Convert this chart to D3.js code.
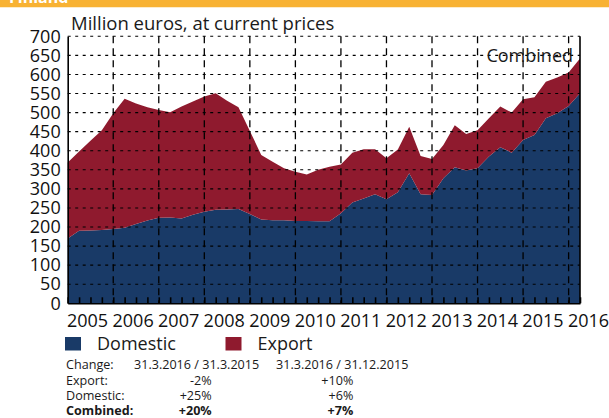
<!DOCTYPE html>
<html>
<head>
<meta charset="utf-8">
<script src="https://cdn.jsdelivr.net/npm/d3@7"></script>
<style>
  body { margin: 0; background: #fff; }
  svg { display: block; font-family: 'Open Sans', sans-serif; }
</style>
</head>
<body>
<div id="charts-container"></div>
<script>
// quarterly values, 31.12.2004 ... 31.3.2016
const domestic = [
  170, 190, 191, 192, 195, 198, 208, 217, 224, 225, 222, 232, 240, 245, 246, 247,
  234, 220, 218, 218, 216, 216, 215, 215, 236, 264, 275, 286, 273, 291, 341, 286,
  284, 328, 357, 348, 354, 385, 409, 395, 428, 441, 485, 498, 517, 551,
];
const exportValues = [
  199, 208, 235, 262, 303, 338, 316, 297, 283, 276, 294, 297, 302, 306, 285, 267,
  218, 169, 153, 136, 129, 122, 135, 143, 128, 131, 129, 118, 107, 112, 122, 100,
  94, 87, 110, 96, 100, 100, 107, 105, 107, 99, 96, 94, 88, 91,
];
const years = ['2005', '2006', '2007', '2008', '2009', '2010', '2011', '2012', '2013', '2014', '2015', '2016'];
const yTicks = [0, 50, 100, 150, 200, 250, 300, 350, 400, 450, 500, 550, 600, 650, 700];
const seriesNames = ['Domestic', 'Export'];
const seriesColors = ['#193a67', '#8f1a2e'];
const changeRows = [
  ['Change:', '31.3.2016 / 31.3.2015', '31.3.2016 / 31.12.2015'],
  ['Export:', '-2%', '+10%'],
  ['Domestic:', '+25%', '+6%'],
  ['Combined:', '+20%', '+7%'],
];

class StackChart {
  constructor(rows) {
    this.rows = rows;
  }

  draw() {
    this.margin = { top: 36.3, right: 29, bottom: 114.7, left: 67.7 };
    this.width = 609 - this.margin.left - this.margin.right;
    this.height = 418 - this.margin.top - this.margin.bottom;

    const root = d3.select('#charts-container').append('svg')
      .attr('width', 609)
      .attr('height', 418);

    // orange band with the country name, mostly cut off
    root.append('clipPath').attr('id', 'band-clip')
      .append('rect').attr('width', 609).attr('height', 7.5);
    const band = root.append('g').attr('clip-path', 'url(#band-clip)');
    band.append('rect').attr('width', 609).attr('height', 7.5).style('fill', '#f8b233');
    band.append('text')
      .attr('x', 9).attr('y', 3)
      .style('font-size', '16px').style('font-weight', 'bold').style('fill', '#fff')
      .text('Finland');

    root.append('text')
      .attr('x', 71).attr('y', 29.5)
      .style('font-size', '18.5px').style('fill', '#1a1a1a')
      .text('Million euros, at current prices');

    this.svg = root.append('g')
      .attr('transform', `translate(${this.margin.left}, ${this.margin.top})`);

    this.x = d3.scaleLinear().domain([0, this.rows.length - 1]).range([0, this.width]);
    this.y = d3.scaleLinear().domain([0, 700]).range([this.height, 0]);

    const stacked = d3.stack().keys(['domestic', 'export'])(this.rows);

    this.area = d3.area()
      .x((d, i) => this.x(i))
      .y0(d => this.y(d[0]))
      .y1(d => this.y(d[1]));

    this.svg.selectAll('path.area')
      .data(stacked)
      .enter()
      .append('path')
      .attr('class', 'area')
      .attr('d', this.area)
      .style('fill', (d, i) => seriesColors[i]);

    // dotted value grid
    this.svg.selectAll('line.hgrid')
      .data(yTicks.filter(v => v > 0))
      .enter()
      .append('line')
      .attr('class', 'hgrid')
      .attr('x1', 0).attr('x2', this.width)
      .attr('y1', d => this.y(d)).attr('y2', d => this.y(d))
      .style('stroke', '#000').style('stroke-width', 1.1)
      .style('stroke-dasharray', '3,4.5');

    // dashed year separators
    this.svg.selectAll('line.vgrid')
      .data(years.slice(1))
      .enter()
      .append('line')
      .attr('class', 'vgrid')
      .attr('x1', (d, i) => this.x(4 * (i + 1))).attr('x2', (d, i) => this.x(4 * (i + 1)))
      .attr('y1', 0).attr('y2', this.height)
      .style('stroke', '#000').style('stroke-width', 1.3)
      .style('stroke-dasharray', '7,5');

    this.xAxis = d3.axisBottom(this.x)
      .tickValues(d3.range(this.rows.length))
      .tickSizeInner(-6).tickSizeOuter(0)
      .tickFormat('');
    const xg = this.svg.append('g')
      .attr('transform', `translate(0, ${this.height})`)
      .call(this.xAxis);
    xg.selectAll('line, path').style('stroke', '#000').style('stroke-width', 1.6);

    const yearAxis = d3.axisBottom(this.x)
      .tickValues(years.map((d, i) => 4 * i + 1.7))
      .tickSize(0).tickPadding(11)
      .tickFormat((d, i) => years[i]);
    const yg = this.svg.append('g')
      .attr('transform', `translate(0, ${this.height})`)
      .call(yearAxis);
    yg.select('.domain').remove();
    yg.selectAll('text').style('font-size', '18px').style('font-family', 'Open Sans').style('fill', '#111');

    this.yAxis = d3.axisLeft(this.y)
      .tickValues(yTicks)
      .tickSize(0).tickPadding(7);
    const ly = this.svg.append('g').call(this.yAxis);
    ly.select('.domain').style('stroke', '#000').style('stroke-width', 1.6);
    ly.selectAll('text').style('font-size', '18px').style('font-family', 'Open Sans').style('fill', '#111');

    this.svg.append('line')
      .attr('x1', this.width).attr('x2', this.width)
      .attr('y1', 0).attr('y2', this.height)
      .style('stroke', '#000').style('stroke-width', 1.6);

    this.svg.append('text')
      .attr('x', this.width - 7).attr('y', 26)
      .attr('text-anchor', 'end')
      .style('font-size', '18px').style('fill', '#1a1a1a')
      .text('Combined');

    // legend
    const legend = root.selectAll('g.legend')
      .data(seriesNames)
      .enter()
      .append('g')
      .attr('class', 'legend')
      .attr('transform', (d, i) => `translate(${65 + i * 160.5}, 337)`);
    legend.append('rect')
      .attr('width', 16).attr('height', 13.5)
      .style('fill', (d, i) => seriesColors[i]);
    legend.append('text')
      .attr('x', 32).attr('y', 12.5)
      .style('font-size', '18px').style('fill', '#1a1a1a')
      .text(d => d);

    // change table
    const table = root.append('g').attr('class', 'table');
    changeRows.forEach((row, r) => {
      const yPos = 369.3 + r * 15.3;
      const bold = r === 3 ? 'bold' : 'normal';
      table.append('text')
        .attr('x', 66).attr('y', yPos)
        .style('font-size', '12.6px').style('font-weight', bold).style('fill', '#1a1a1a')
        .text(row[0]);
      if (r === 0) {
        table.append('text').attr('x', 134).attr('y', yPos)
          .style('font-size', '12.6px').style('fill', '#1a1a1a').text(row[1]);
        table.append('text').attr('x', 276).attr('y', yPos)
          .style('font-size', '12.6px').style('fill', '#1a1a1a').text(row[2]);
      } else {
        table.append('text').attr('x', 211.7).attr('y', yPos).attr('text-anchor', 'end')
          .style('font-size', '12.6px').style('font-weight', bold).style('fill', '#1a1a1a').text(row[1]);
        table.append('text').attr('x', 353.3).attr('y', yPos).attr('text-anchor', 'end')
          .style('font-size', '12.6px').style('font-weight', bold).style('fill', '#1a1a1a').text(row[2]);
      }
    });
  }
}

function createChart() {
  const rows = domestic.map((d, i) => ({ domestic: d, export: exportValues[i] }));
  const chart = new StackChart(rows);
  chart.draw();
}

createChart();
</script>
</body>
</html>
